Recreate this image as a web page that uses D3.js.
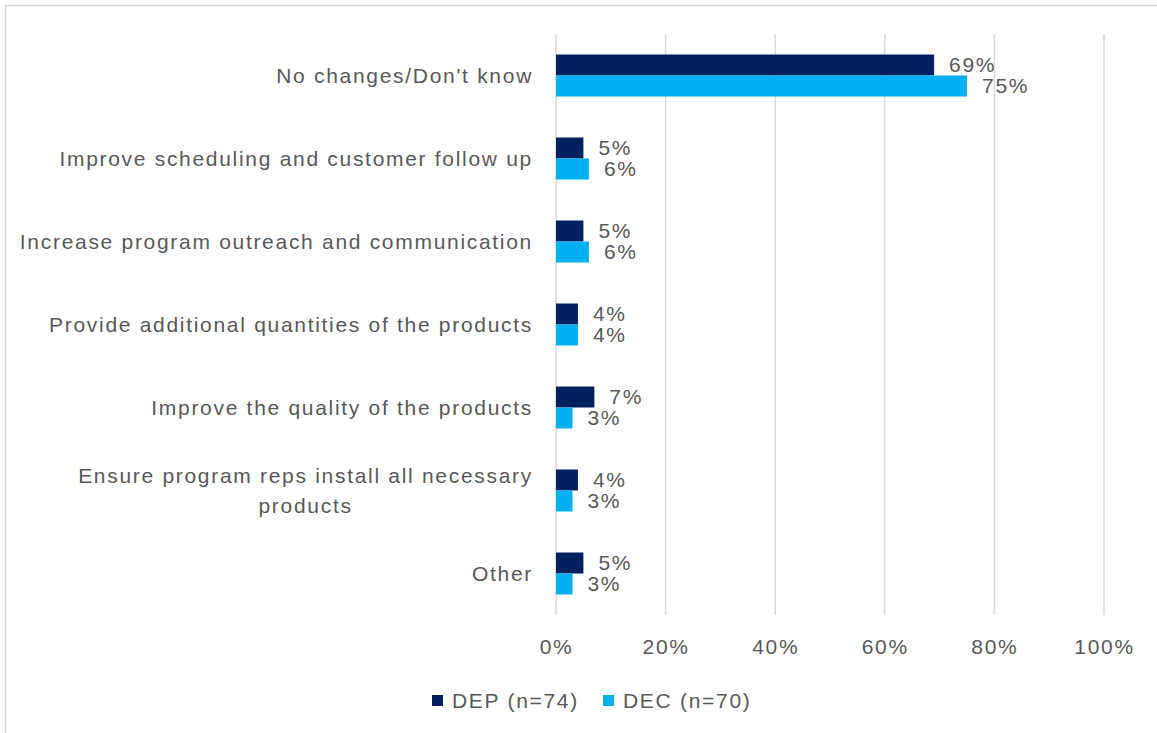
<!DOCTYPE html>
<html>
<head>
<meta charset="utf-8">
<script src="https://cdn.jsdelivr.net/npm/d3@7"></script>
<style>
  html, body { margin: 0; padding: 0; background: #fff; }
  svg text { font-family: "Liberation Sans", Arial, sans-serif; fill: #595959; }
</style>
</head>
<body>
<svg id="chart" width="1157" height="733"></svg>
<script>
// Suggested improvements, share of respondents by program
const categories = [
  "No changes/Don't know",
  "Improve scheduling and customer follow up",
  "Increase program outreach and communication",
  "Provide additional quantities of the products",
  "Improve the quality of the products",
  "Ensure program reps install all necessary products",
  "Other"
];
const seriesNames = ["DEP (n=74)", "DEC (n=70)"];
const depValues = [69, 5, 5, 4, 7, 4, 5];
const decValues = [75, 6, 6, 4, 3, 3, 3];
const seriesColors = ["#002060", "#00B0F0"];
const xTicks = [0, 20, 40, 60, 80, 100];

const FONT_SIZE = 21;
const LETTER_SPACING = 1.7;

const svg = d3.select("#chart");

// chart frame
svg.append("rect")
  .attr("x", 5.5).attr("y", 5.5)
  .attr("width", 1200).attr("height", 800)
  .attr("fill", "none").attr("stroke", "#d9d9d9").attr("stroke-width", 1.5);

const x = d3.scaleLinear().domain([0, 100]).range([556, 1104]);
const y = d3.scaleBand().domain(categories).range([34, 615])
  .paddingInner(0.494).paddingOuter(0.247);
const ySeries = d3.scaleBand().domain(seriesNames).range([0, y.bandwidth()]);

// vertical gridlines
svg.append("g").selectAll("line").data(xTicks).join("line")
  .attr("x1", d => x(d)).attr("x2", d => x(d))
  .attr("y1", 34).attr("y2", 615)
  .attr("stroke", "#d9d9d9").attr("stroke-width", 1.5);

// bottom axis labels
const xAxis = d3.axisBottom(x).tickValues(xTicks).tickFormat(d => d + "%").tickSize(0).tickPadding(0);
const gx = svg.append("g").attr("transform", "translate(0,639)").call(xAxis);
gx.select(".domain").remove();
gx.selectAll("text")
  .attr("font-size", FONT_SIZE).attr("letter-spacing", LETTER_SPACING)
  .attr("font-family", null).attr("fill", "#595959")
  .attr("dy", "0.71em");

// category labels, wrapped and center-aligned within a right-aligned block
const labelRight = 533;
const maxLabelWidth = 525;
const catG = svg.append("g");
categories.forEach(cat => {
  const measure = catG.append("text")
    .attr("font-size", FONT_SIZE).attr("letter-spacing", LETTER_SPACING);
  const words = cat.split(" ");
  const lines = [];
  let line = [];
  words.forEach(w => {
    const trial = line.concat([w]).join(" ");
    measure.text(trial);
    if (line.length && measure.node().getComputedTextLength() > maxLabelWidth) {
      lines.push(line.join(" "));
      line = [w];
    } else {
      line.push(w);
    }
  });
  lines.push(line.join(" "));
  const widths = lines.map(l => { measure.text(l); return measure.node().getComputedTextLength(); });
  measure.remove();
  const blockW = d3.max(widths);
  const cx = labelRight - blockW / 2;
  const lh = 30;
  const cy = y(cat) + y.bandwidth() / 2;
  const t = catG.append("text")
    .attr("font-size", FONT_SIZE).attr("letter-spacing", LETTER_SPACING)
    .attr("text-anchor", "middle");
  lines.forEach((l, i) => {
    t.append("tspan")
      .attr("x", cx)
      .attr("y", cy + (i - (lines.length - 1) / 2) * lh)
      .attr("dy", "0.35em")
      .text(l);
  });
});

// bars and value labels
const seriesData = [depValues, decValues];
seriesNames.forEach((name, si) => {
  const g = svg.append("g");
  const rows = categories.map((c, i) => ({ cat: c, v: seriesData[si][i] }));
  g.selectAll("rect").data(rows).join("rect")
    .attr("x", x(0))
    .attr("y", d => y(d.cat) + ySeries(name))
    .attr("width", d => x(d.v) - x(0))
    .attr("height", ySeries.bandwidth())
    .attr("fill", seriesColors[si]);
  g.selectAll("text").data(rows).join("text")
    .attr("x", d => x(d.v) + 15)
    .attr("y", d => y(d.cat) + ySeries(name) + ySeries.bandwidth() / 2)
    .attr("dy", "0.35em")
    .attr("font-size", FONT_SIZE).attr("letter-spacing", LETTER_SPACING)
    .text(d => d.v + "%");
});

// legend
const legend = svg.append("g");
const legendX = [432, 603];
seriesNames.forEach((name, i) => {
  legend.append("rect")
    .attr("x", legendX[i]).attr("y", 695)
    .attr("width", 11).attr("height", 11)
    .attr("fill", seriesColors[i]);
  legend.append("text")
    .attr("x", legendX[i] + 20).attr("y", 700.5)
    .attr("dy", "0.35em")
    .attr("font-size", FONT_SIZE).attr("letter-spacing", LETTER_SPACING)
    .text(name);
});
</script>
</body>
</html>
